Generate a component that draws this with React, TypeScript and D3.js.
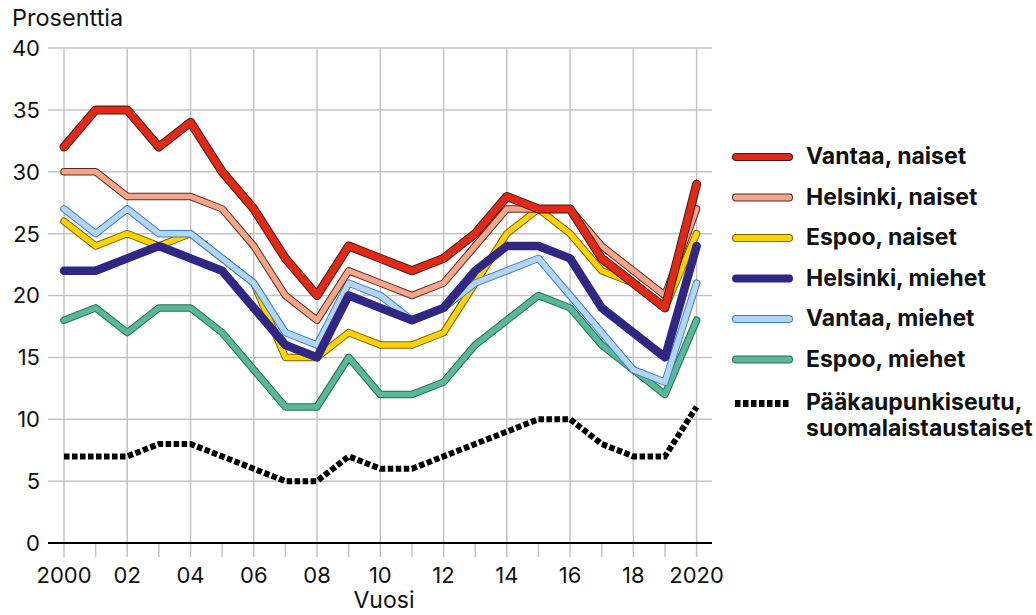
import React from "react";
import * as d3 from "d3";

const years = [2000, 2001, 2002, 2003, 2004, 2005, 2006, 2007, 2008, 2009, 2010, 2011, 2012, 2013, 2014, 2015, 2016, 2017, 2018, 2019, 2020];

const vantaaNaiset = [32, 35, 35, 32, 34, 30, 27, 23, 20, 24, 23, 22, 23, 25, 28, 27, 27, 23, 21, 19, 29];
const helsinkiNaiset = [30, 30, 28, 28, 28, 27, 24, 20, 18, 22, 21, 20, 21, 24, 27, 27, 27, 24, 22, 20, 27];
const espooNaiset = [26, 24, 25, 24, 25, 23, 21, 15, 15, 17, 16, 16, 17, 21, 25, 27, 25, 22, 21, 19, 25];
const helsinkiMiehet = [22, 22, 23, 24, 23, 22, 19, 16, 15, 20, 19, 18, 19, 22, 24, 24, 23, 19, 17, 15, 24];
const vantaaMiehet = [27, 25, 27, 25, 25, 23, 21, 17, 16, 21, 20, 18, 19, 21, 22, 23, 20, 17, 14, 13, 21];
const espooMiehet = [18, 19, 17, 19, 19, 17, 14, 11, 11, 15, 12, 12, 13, 16, 18, 20, 19, 16, 14, 12, 18];
const paakaupunkiseutu = [7, 7, 7, 8, 8, 7, 6, 5, 5, 7, 6, 6, 7, 8, 9, 10, 10, 8, 7, 7, 11];

const yTicks = [0, 5, 10, 15, 20, 25, 30, 35, 40];
const xTickLabels = ["2000", "02", "04", "06", "08", "10", "12", "14", "16", "18", "2020"];
const xLabelYears = [2000, 2002, 2004, 2006, 2008, 2010, 2012, 2014, 2016, 2018, 2020];

type Series = { name: string[]; values: number[]; fill: string; edge: string | null; width: number; dotted?: boolean };

const series: Series[] = [
  { name: ["Vantaa, naiset"], values: vantaaNaiset, fill: "#e02a18", edge: "#4a1710", width: 7 },
  { name: ["Helsinki, naiset"], values: helsinkiNaiset, fill: "#f2a68a", edge: "#5a2a20", width: 5.5 },
  { name: ["Espoo, naiset"], values: espooNaiset, fill: "#ffd200", edge: "#7a6400", width: 5.5 },
  { name: ["Helsinki, miehet"], values: helsinkiMiehet, fill: "#302785", edge: null, width: 8.5 },
  { name: ["Vantaa, miehet"], values: vantaaMiehet, fill: "#b3d5f2", edge: "#3f7fbf", width: 5.5 },
  { name: ["Espoo, miehet"], values: espooMiehet, fill: "#58b898", edge: "#2a6e55", width: 5.5 },
  { name: ["Pääkaupunkiseutu,", "suomalaistaustaiset"], values: paakaupunkiseutu, fill: "#000", edge: null, width: 6, dotted: true },
];

const drawOrder = [6, 5, 2, 4, 3, 1, 0];

const FONT = "Inter, 'Noto Sans', sans-serif";

export default function App() {
  const x = d3.scaleLinear().domain([2000, 2020]).range([64, 696.6]);
  const y = d3.scaleLinear().domain([0, 40]).range([543, 48]);
  const left = 48;
  const right = 712;

  const line = d3
    .line<number>()
    .x((_, i) => x(years[i]))
    .y((d) => y(d));

  const legendY0 = 157;
  const legendStep = 40.5;

  return (
    <svg width={1036} height={615} style={{ position: "absolute", left: 0, top: 0, background: "#fff" }} fontFamily={FONT}>
      <rect width={1036} height={615} fill="#fff" />
      {yTicks.filter((t) => t > 0).map((t) => (
        <line key={"h" + t} x1={left} x2={right} y1={y(t)} y2={y(t)} stroke="#c4c4c4" strokeWidth={1.5} />
      ))}
      {xLabelYears.map((yr) => (
        <line key={"v" + yr} x1={x(yr)} x2={x(yr)} y1={y(40)} y2={557} stroke="#c4c4c4" strokeWidth={1.5} />
      ))}
      {years.filter((yr) => yr % 2 === 1).map((yr) => (
        <line key={"t" + yr} x1={x(yr)} x2={x(yr)} y1={y(0)} y2={557} stroke="#c4c4c4" strokeWidth={1.5} />
      ))}
      <line x1={left} x2={right} y1={y(0)} y2={y(0)} stroke="#000" strokeWidth={2} />

      {yTicks.map((t) => (
        <text key={"yl" + t} x={40} y={y(t)} dy="0.36em" textAnchor="end" fontSize={22} fill="#111">
          {t}
        </text>
      ))}
      {xLabelYears.map((yr, i) => (
        <text key={"xl" + yr} x={x(yr)} y={583} textAnchor="middle" fontSize={22} fill="#111">
          {xTickLabels[i]}
        </text>
      ))}
      <text x={12} y={26} fontSize={23.5} fill="#111">Prosenttia</text>
      <text x={384} y={608} textAnchor="middle" fontSize={23} fill="#111">Vuosi</text>

      {drawOrder.map((si) => {
        const s = series[si];
        const d = line(s.values) || "";
        if (s.dotted) {
          return (
            <path key={"s" + si} d={d} fill="none" stroke={s.fill} strokeWidth={s.width} strokeDasharray="5.5,2.5" strokeLinejoin="miter" />
          );
        }
        return (
          <g key={"s" + si}>
            {s.edge && (
              <path d={d} fill="none" stroke={s.edge} strokeWidth={s.width + 2} strokeLinejoin="round" strokeLinecap="round" />
            )}
            <path d={d} fill="none" stroke={s.fill} strokeWidth={s.width} strokeLinejoin="round" strokeLinecap="round" />
          </g>
        );
      })}

      {series.map((s, i) => {
        const cy = s.dotted ? 403.5 : legendY0 + i * legendStep;
        return (
          <g key={"lg" + i}>
            {s.dotted ? (
              <line x1={735} x2={789} y1={cy} y2={cy} stroke="#000" strokeWidth={7} strokeDasharray="5.5,2.5" />
            ) : (
              <>
                {s.edge && <line x1={736} x2={789} y1={cy} y2={cy} stroke={s.edge} strokeWidth={8} strokeLinecap="round" />}
                <line x1={736} x2={789} y1={cy} y2={cy} stroke={s.fill} strokeWidth={s.edge ? 6 : 8} strokeLinecap="round" />
              </>
            )}
            {s.name.map((n, j) => (
              <text key={j} x={806} y={(s.dotted ? 409.5 : cy + 7) + j * 26} fontSize={23} fontWeight={700} fill="#111">
                {n}
              </text>
            ))}
          </g>
        );
      })}
    </svg>
  );
}
